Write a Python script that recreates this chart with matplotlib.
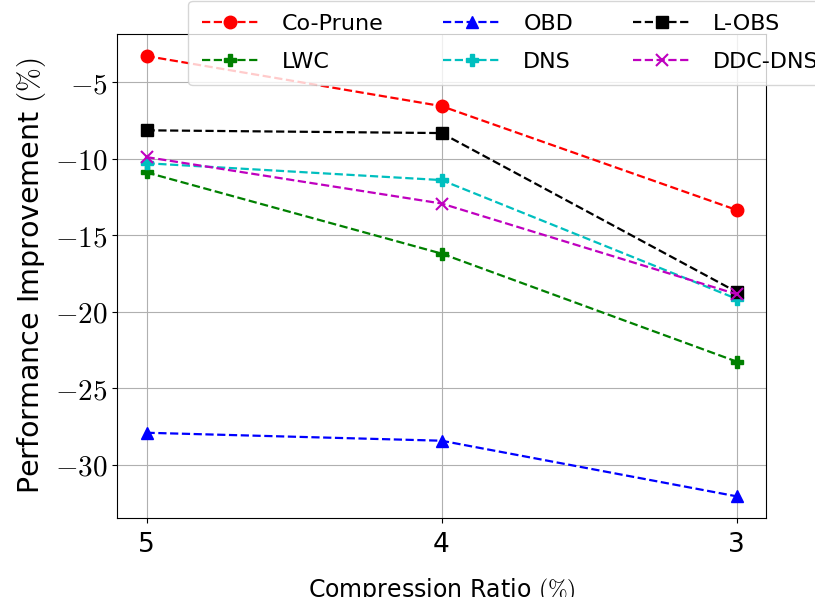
import matplotlib
matplotlib.use("Agg")
import matplotlib.pyplot as plt
from matplotlib.ticker import FuncFormatter

plt.rcParams['mathtext.fontset'] = 'cm'

# ---------------------------- data ----------------------------------
ratios = ['5', '4', '3']
co_prune = [-3.3, -6.57, -13.35]
lwc = [-10.9, -16.2, -23.25]
obd = [-27.9, -28.42, -32.05]
dns = [-10.3, -11.4, -19.15]
l_obs = [-8.15, -8.33, -18.7]
ddc_dns = [-9.9, -12.93, -18.85]
# --------------------------------------------------------------------

fig = plt.figure(figsize=(8.15, 5.97), dpi=100)
ax = fig.add_axes([0.1436, 0.1318, 0.7963, 0.8112])

x = range(len(ratios))
ax.plot(x, co_prune, 'r--', marker='o', ms=9, lw=1.6, label='Co-Prune')
ax.plot(x, lwc, 'g--', marker='P', ms=9, lw=1.6, label='LWC')
ax.plot(x, obd, 'b--', marker='^', ms=9, lw=1.6, label='OBD')
ax.plot(x, dns, 'c--', marker='P', ms=9, lw=1.6, label='DNS')
ax.plot(x, l_obs, 'k--', marker='s', ms=8.5, lw=1.6, label='L-OBS')
ax.plot(x, ddc_dns, 'm--', marker='x', ms=9, mew=1.5, lw=1.6, label='DDC-DNS')

ax.set_xticks(list(x))
ax.set_xticklabels(ratios, fontsize=19)
ax.yaxis.set_major_formatter(FuncFormatter(lambda v, p: f'${v:g}$'))
ax.tick_params(axis='y', labelsize=21)
ax.tick_params(axis='x', pad=6)
ax.grid(True)

ax.set_ylabel(r'Performance Improvement $(\%)$', fontsize=20.5, labelpad=5)
ax.set_xlabel(r'Compression Ratio $(\%)$', fontsize=17, labelpad=14)

h, l = ax.get_legend_handles_labels()
fig.legend(h, l, ncol=3, fontsize=16, loc='upper left',
           bbox_to_anchor=(0.231, 0.999), bbox_transform=fig.transFigure,
           borderaxespad=0, borderpad=0.6, handlelength=2.6, handletextpad=1.0,
           columnspacing=2.7, labelspacing=0.8)

fig.savefig('out.png', dpi=100)
